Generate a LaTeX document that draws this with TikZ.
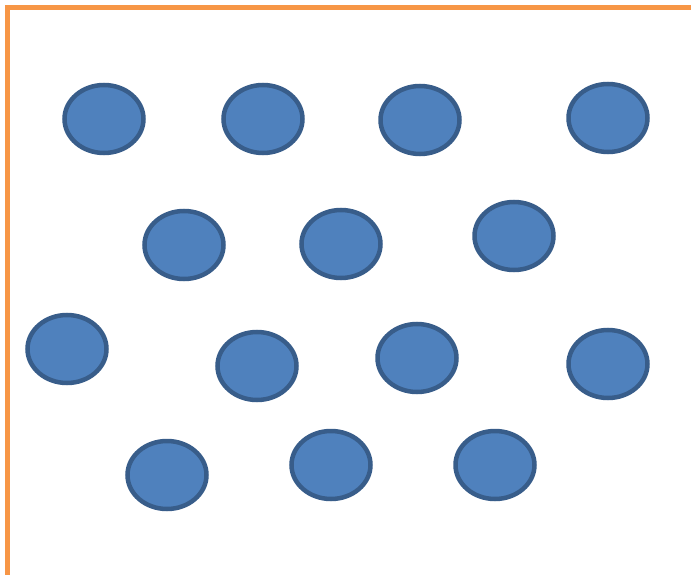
\documentclass[tikz,border=0pt]{standalone}
\usetikzlibrary{shapes.geometric}
\definecolor{dotfill}{HTML}{4F81BD}
\definecolor{dotline}{HTML}{385D8A}
\definecolor{frameor}{HTML}{F79646}
\begin{document}
\begin{tikzpicture}[x=1pt,y=-1pt,
  dot/.style={ellipse,draw=dotline,fill=dotfill,line width=4.5pt,minimum width=79pt,minimum height=68pt,inner sep=0pt},
  frameline/.style={draw=frameor,line width=5pt}]
\useasboundingbox (0,0) rectangle (691,575);
\fill[white] (0,0) rectangle (691,575);
\coordinate (fb) at (7.5,575);
\coordinate (fc) at (7.5,7.5);
\coordinate (fr) at (691,7.5);
\draw[frameline] (fb) -- (fc) -- (fr);
\node[dot] (d1) at (104,119) {};
\node[dot] (d2) at (263,119) {};
\node[dot] (d3) at (420,120) {};
\node[dot] (d4) at (608,118) {};
\node[dot] (d5) at (184,245) {};
\node[dot] (d6) at (341,244) {};
\node[dot] (d7) at (514,236) {};
\node[dot] (d8) at (67,349) {};
\node[dot] (d9) at (257,366) {};
\node[dot] (d10) at (417,358) {};
\node[dot] (d11) at (608,364) {};
\node[dot] (d12) at (167,475) {};
\node[dot] (d13) at (331,465) {};
\node[dot] (d14) at (495,465) {};
\end{tikzpicture}
\end{document}
